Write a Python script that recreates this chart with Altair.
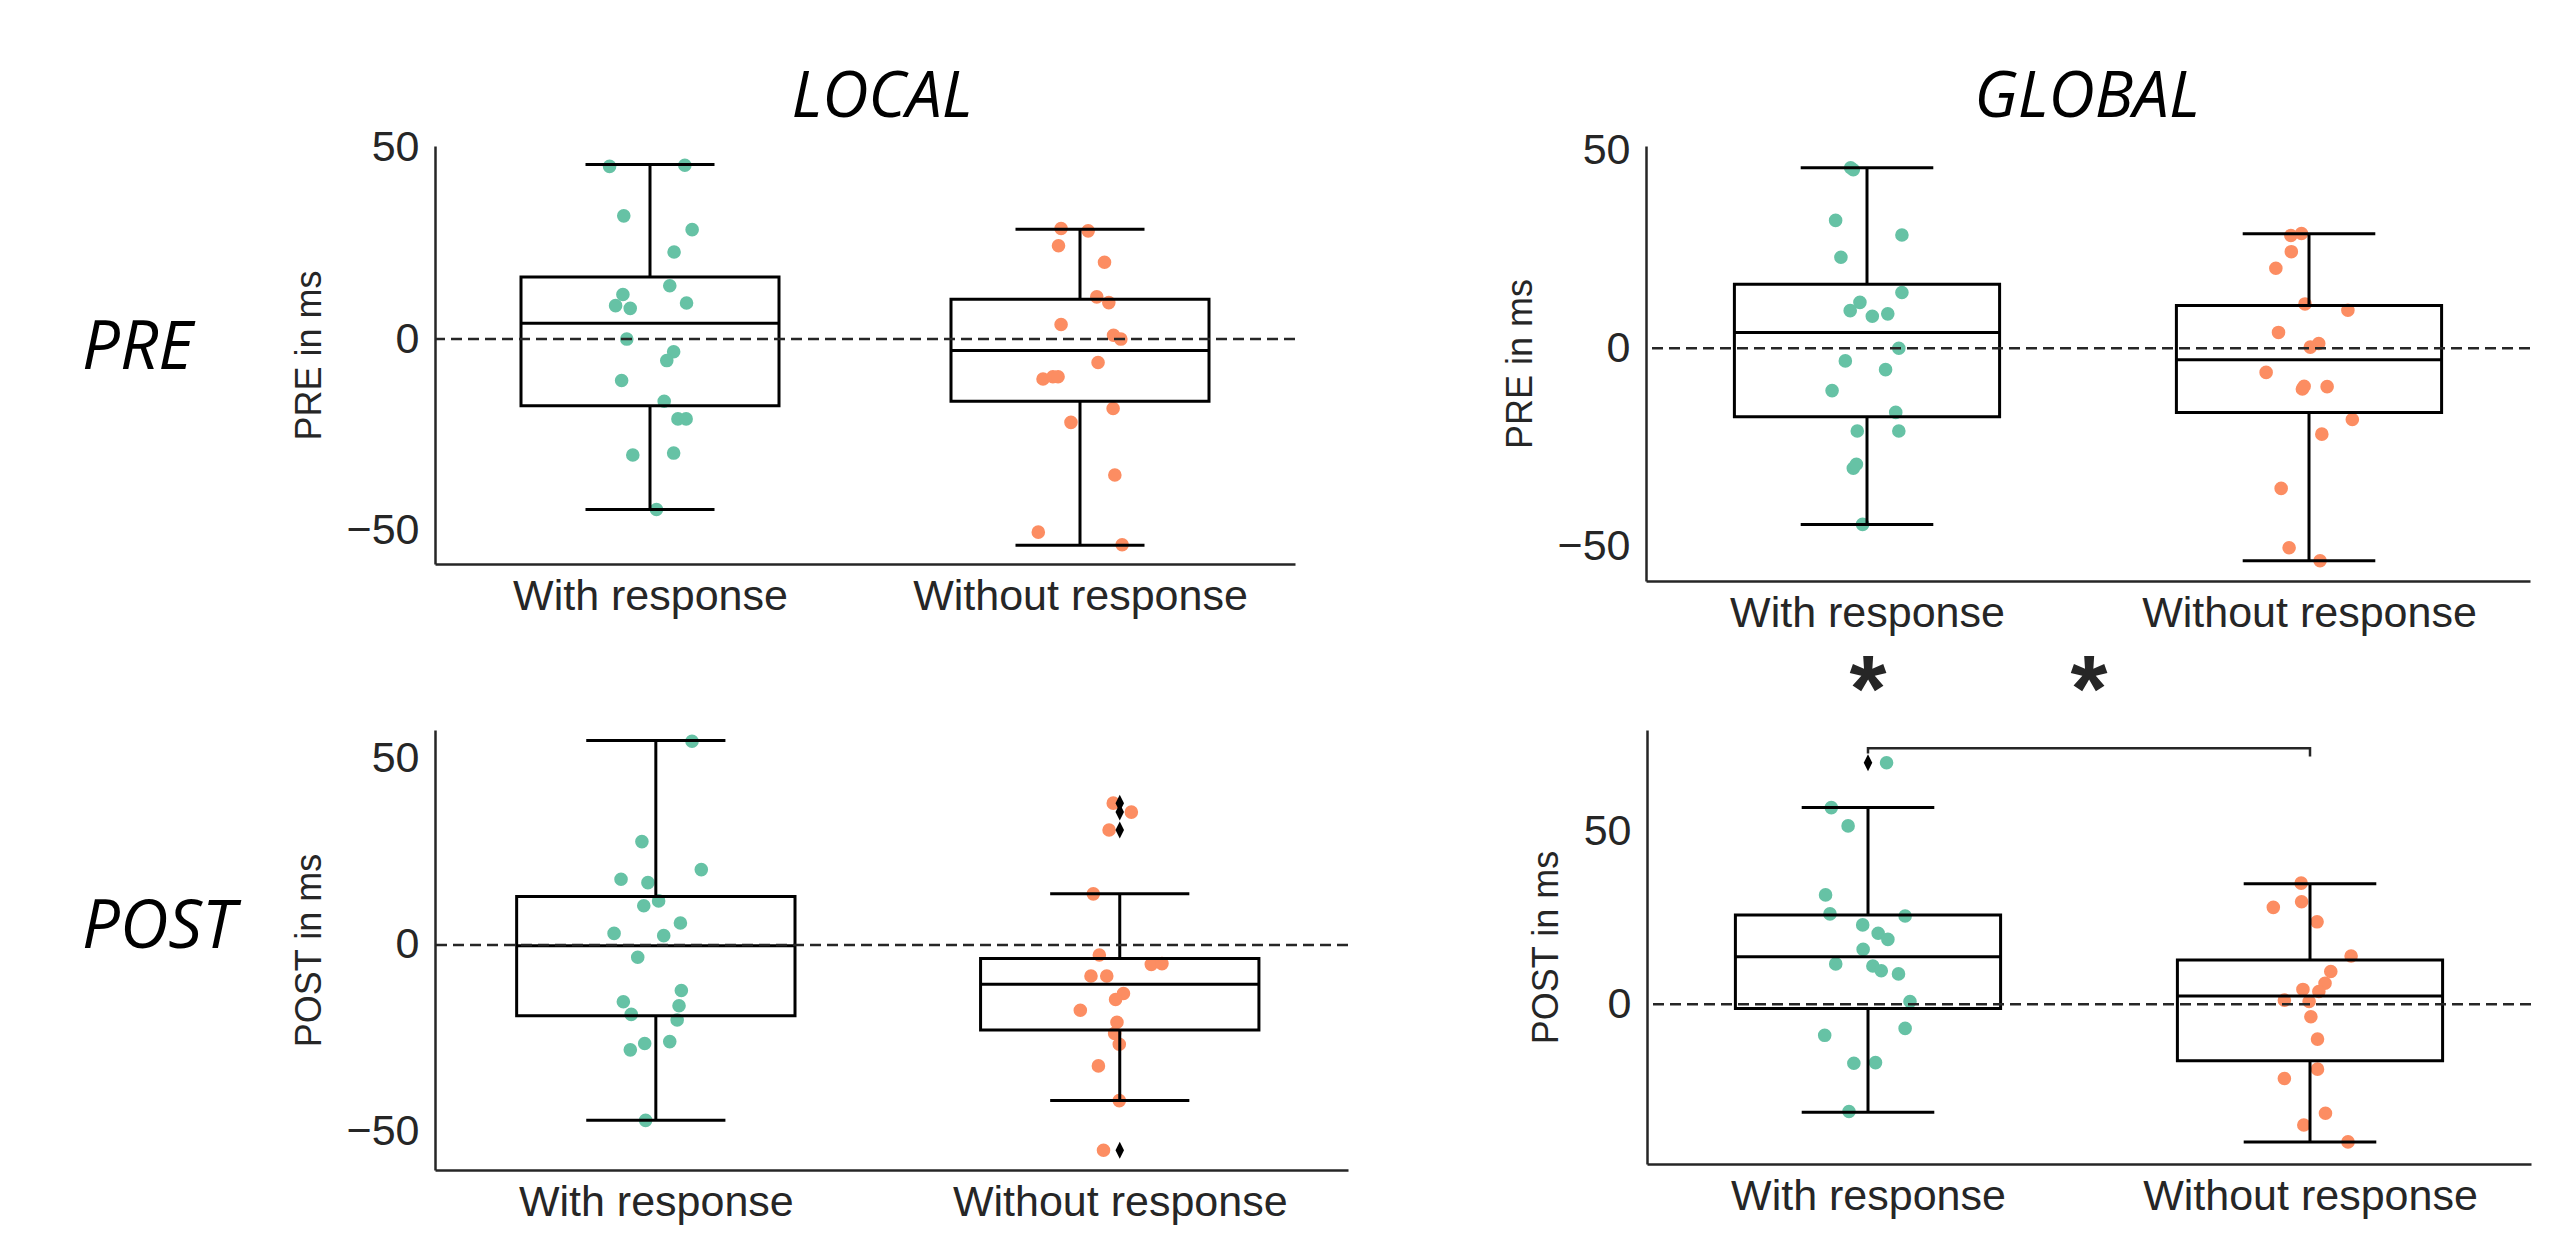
import altair as alt
import pandas as pd

categories = ["With response", "Without response"]
colors = ["#66c2a5", "#fc8d62"]
col_titles = ["LOCAL", "GLOBAL"]
row_titles = ["PRE", "POST"]
y_titles = ["PRE in ms", "POST in ms"]

# ---------------- PRE / LOCAL ----------------
pl_w_vals = [45.0, 45.3, 32.1, 28.5, 22.7, 13.9, 11.6, 8.7, 8.0, 9.4, 0.0, -3.3, -5.6, -10.8, -16.2, -20.8, -20.8, -30.2, -29.7, -44.4]
pl_w_jit = [-0.094, 0.081, -0.061, 0.098, 0.056, 0.046, -0.063, -0.080, -0.046, 0.085, -0.054, 0.055, 0.039, -0.066, 0.033, 0.065, 0.084, -0.040, 0.055, 0.015]
pl_o_vals = [28.8, 28.2, 24.3, 20.0, 11.0, 9.5, 3.8, 1.0, 0.0, -6.1, -10.4, -9.8, -9.8, -18.1, -21.7, -35.4, -50.3, -53.6]
pl_o_jit = [-0.044, 0.019, -0.050, 0.057, 0.039, 0.067, -0.044, 0.078, 0.095, 0.042, -0.086, -0.063, -0.051, 0.077, -0.021, 0.081, -0.097, 0.098]
pl_lower = [-44.4, -53.7]
pl_q1 = [-17.4, -16.2]
pl_med = [4.1, -3.0]
pl_q3 = [16.2, 10.4]
pl_upper = [45.5, 28.6]

# ---------------- PRE / GLOBAL ----------------
pg_w_vals = [45.6, 45.1, 32.3, 28.6, 23.0, 14.1, 11.6, 9.5, 8.1, 8.7, 0.0, -3.2, -5.4, -10.7, -16.2, -20.9, -20.9, -30.3, -29.3, -44.5]
pg_w_jit = [-0.037, -0.031, -0.071, 0.079, -0.059, 0.079, -0.016, -0.038, 0.012, 0.047, 0.072, -0.049, 0.042, -0.079, 0.065, -0.022, 0.072, -0.031, -0.024, -0.010]
pg_o_vals = [28.5, 29.0, 24.4, 20.2, 11.2, 9.6, 4.0, 1.2, 0.3, -6.1, -10.3, -9.6, -9.7, -18.0, -21.7, -35.4, -50.4, -53.7]
pg_o_jit = [-0.041, -0.017, -0.040, -0.075, -0.009, 0.088, -0.069, 0.022, 0.003, -0.097, -0.015, -0.011, 0.041, 0.098, 0.029, -0.063, -0.045, 0.025]
pg_lower = [-44.5, -53.7]
pg_q1 = [-17.3, -16.2]
pg_med = [4.0, -2.9]
pg_q3 = [16.2, 10.8]
pg_upper = [45.6, 28.9]

# ---------------- POST / LOCAL ----------------
ql_w_vals = [54.6, 27.7, 20.2, 17.6, 16.7, 11.8, 10.5, 5.9, 3.1, 2.5, -3.3, -12.2, -15.2, -16.3, -18.6, -20.1, -26.4, -28.1, -25.9, -47.0]
ql_w_jit = [0.078, -0.030, 0.098, -0.075, -0.017, 0.006, -0.026, 0.053, -0.090, 0.017, -0.039, 0.055, -0.070, 0.050, -0.053, 0.046, -0.024, -0.055, 0.030, -0.022]
ql_o_vals = [38.0, 35.6, 30.8, 13.7, -2.7, -5.2, -5.0, -8.3, -8.3, -13.0, -14.6, -17.5, -20.7, -23.7, -26.6, -32.4, -41.7, -55.0]
ql_o_jit = [-0.014, 0.025, -0.023, -0.057, -0.044, 0.068, 0.091, -0.062, -0.028, 0.008, -0.009, -0.085, -0.006, -0.011, -0.001, -0.046, -0.001, -0.035]
ql_lower = [-47.0, -41.7]
ql_q1 = [-19.0, -22.8]
ql_med = [-0.2, -10.5]
ql_q3 = [13.0, -3.6]
ql_upper = [54.8, 13.7]
ql_flier_grp = [1, 1, 1, 1]
ql_flier_vals = [38.0, 35.6, 30.8, -55.0]

# ---------------- POST / GLOBAL ----------------
qg_w_vals = [70.0, 57.0, 51.7, 31.7, 26.2, 25.6, 23.0, 20.6, 18.8, 15.9, 11.7, 11.1, 9.7, 8.8, 0.8, -7.0, -9.0, -17.1, -16.9, -31.1]
qg_w_jit = [0.042, -0.083, -0.045, -0.096, -0.086, 0.084, -0.012, 0.023, 0.045, -0.011, -0.073, 0.011, 0.030, 0.069, 0.095, 0.084, -0.098, -0.032, 0.017, -0.043]
qg_o_vals = [35.1, 28.1, 29.7, 23.9, 14.0, 9.5, 6.1, 3.7, 4.3, 1.2, 0.8, -3.6, -10.1, -18.8, -21.5, -31.6, -35.0, -39.9]
qg_o_jit = [-0.020, -0.083, -0.019, 0.016, 0.093, 0.047, 0.034, 0.020, -0.016, -0.058, -0.002, 0.002, 0.017, 0.017, -0.058, 0.035, -0.014, 0.086]
qg_lower = [-31.3, -39.9]
qg_q1 = [-1.2, -16.4]
qg_med = [13.8, 2.4]
qg_q3 = [25.9, 12.8]
qg_upper = [57.0, 34.9]
qg_flier_grp = [0]
qg_flier_vals = [70.0]

# significance annotation (POST / GLOBAL)
bracket_x = [0, 0, 1, 1]
bracket_y = [72.7, 74.2, 74.2, 71.8]
star_x = [0, 0.5]
star_text = ["*", "*"]

LABEL_FONT = "Liberation Sans"
TITLE_FONT = "Open Sans"
DARK = "#262626"
DIAMOND = "M0,-1L0.5,0L0,1L-0.5,0Z"


def panel(w_vals, w_jit, o_vals, o_jit, lower, q1, med, q3, upper,
          xdom, ydom, yticks, width, height, ytitle,
          fl_grp=None, fl_vals=None, extra=None):
    pts = pd.DataFrame({
        "grp": [0] * len(w_vals) + [1] * len(o_vals),
        "jit": w_jit + o_jit,
        "val": w_vals + o_vals,
    })
    box = pd.DataFrame({"grp": [0, 1], "lower": lower, "q1": q1, "med": med,
                        "q3": q3, "upper": upper})
    xs = alt.Scale(domain=xdom, nice=False, zero=False)
    ys = alt.Scale(domain=ydom, nice=False, zero=False)
    label_expr = "datum.value == 0 ? '%s' : '%s'" % (categories[0], categories[1])
    xaxis = alt.Axis(values=[0, 1], labelExpr=label_expr, title=None, grid=False,
                     ticks=False, labelPadding=11, labelFontSize=43, labelLimit=0,
                     labelFont=LABEL_FONT, labelColor=DARK, domainColor=DARK,
                     domainWidth=2.5)
    yaxis = alt.Axis(values=yticks, title=ytitle, grid=False, ticks=False,
                     labelPadding=16, labelFontSize=43, labelFont=LABEL_FONT,
                     labelColor=DARK, domainColor=DARK, domainWidth=2.5,
                     titleFont=LABEL_FONT, titleFontSize=36, titleFontWeight="normal",
                     titleColor=DARK, titlePadding=18)

    points = alt.Chart(pts).transform_calculate(xp="datum.grp + datum.jit").mark_circle(
        size=185, opacity=1).encode(
        x=alt.X("xp:Q", scale=xs, axis=xaxis),
        y=alt.Y("val:Q", scale=ys, axis=yaxis),
        color=alt.Color("grp:N", scale=alt.Scale(domain=[0, 1], range=colors), legend=None),
    )
    bb = alt.Chart(box).transform_calculate(
        xl="datum.grp - 0.3", xr="datum.grp + 0.3",
        cl="datum.grp - 0.15", cr="datum.grp + 0.15")
    rect = bb.mark_rect(fill="transparent", stroke="black", strokeWidth=3).encode(
        x=alt.X("xl:Q", scale=xs, axis=xaxis), x2="xr:Q",
        y=alt.Y("q1:Q", scale=ys, axis=yaxis), y2="q3:Q")
    median = bb.mark_rule(color="black", strokeWidth=3).encode(
        x=alt.X("xl:Q", scale=xs, axis=xaxis), x2="xr:Q",
        y=alt.Y("med:Q", scale=ys, axis=yaxis))
    wh_hi = bb.mark_rule(color="black", strokeWidth=3).encode(
        x=alt.X("grp:Q", scale=xs, axis=xaxis),
        y=alt.Y("q3:Q", scale=ys, axis=yaxis), y2="upper:Q")
    wh_lo = bb.mark_rule(color="black", strokeWidth=3).encode(
        x=alt.X("grp:Q", scale=xs, axis=xaxis),
        y=alt.Y("q1:Q", scale=ys, axis=yaxis), y2="lower:Q")
    cap_hi = bb.mark_rule(color="black", strokeWidth=3).encode(
        x=alt.X("cl:Q", scale=xs, axis=xaxis), x2="cr:Q",
        y=alt.Y("upper:Q", scale=ys, axis=yaxis))
    cap_lo = bb.mark_rule(color="black", strokeWidth=3).encode(
        x=alt.X("cl:Q", scale=xs, axis=xaxis), x2="cr:Q",
        y=alt.Y("lower:Q", scale=ys, axis=yaxis))
    layers = [points, rect, median, wh_hi, wh_lo, cap_hi, cap_lo]
    if fl_grp:
        fl = pd.DataFrame({"grp": fl_grp, "val": fl_vals})
        layers.append(alt.Chart(fl).mark_point(shape=DIAMOND, filled=True, color="black",
                                               size=290, opacity=1).encode(
            x=alt.X("grp:Q", scale=xs, axis=xaxis),
            y=alt.Y("val:Q", scale=ys, axis=yaxis)))
    zero = alt.Chart(pd.DataFrame({"v": [0]})).mark_rule(
        color=DARK, strokeWidth=2.5, strokeDash=[11, 6]).encode(
        y=alt.Y("v:Q", scale=ys, axis=yaxis))
    layers.append(zero)
    if extra:
        layers.extend(extra(xs, ys, xaxis, yaxis))
    return alt.layer(*layers).properties(width=width, height=height)


def big_text(txt, x, y, align, size=64):
    return alt.Chart(pd.DataFrame({"t": [txt]})).mark_text(
        font=TITLE_FONT, fontSize=size, fontStyle="italic", fontWeight="normal",
        color="black", align=align, baseline="alphabetic").encode(
        x=alt.value(x), y=alt.value(y), text="t:N")


def p1_extra(xs, ys, xa, ya):
    return [big_text(col_titles[0], 447, -29, "center"),
            big_text(row_titles[0], -353, 223, "left", 67)]


def p2_extra(xs, ys, xa, ya):
    return [big_text(col_titles[1], 441, -29, "center")]


def p3_extra(xs, ys, xa, ya):
    return [big_text(row_titles[1], -353, 218, "left", 67)]


def p4_extra(xs, ys, xa, ya):
    br = pd.DataFrame({"bx": bracket_x, "by": bracket_y, "o": list(range(len(bracket_x)))})
    bracket = alt.Chart(br).mark_line(color=DARK, strokeWidth=2.5).encode(
        x=alt.X("bx:Q", scale=xs, axis=xa), y=alt.Y("by:Q", scale=ys, axis=ya),
        order="o:Q")
    st = pd.DataFrame({"sx": star_x, "s": star_text})
    stars = alt.Chart(st).mark_text(font="Liberation Sans", fontSize=95, fontWeight="bold",
                                    color=DARK, baseline="alphabetic", align="center").encode(
        x=alt.X("sx:Q", scale=xs, axis=xa), y=alt.value(-9), text="s:N")
    return [bracket, stars]


p1 = panel(pl_w_vals, pl_w_jit, pl_o_vals, pl_o_jit, pl_lower, pl_q1, pl_med, pl_q3, pl_upper,
           [-0.5, 1.5], [-58.6, 50.3], [-50, 0, 50], 860, 418, y_titles[0], extra=p1_extra)
p2 = panel(pg_w_vals, pg_w_jit, pg_o_vals, pg_o_jit, pg_lower, pg_q1, pg_med, pg_q3, pg_upper,
           [-0.5, 1.5], [-58.8, 51.1], [-50, 0, 50], 884, 435, y_titles[0], extra=p2_extra)
p3 = panel(ql_w_vals, ql_w_jit, ql_o_vals, ql_o_jit, ql_lower, ql_q1, ql_med, ql_q3, ql_upper,
           [-0.476, 1.492], [-60.3, 57.6], [-50, 0, 50], 913, 440, y_titles[1],
           fl_grp=ql_flier_grp, fl_vals=ql_flier_vals, extra=p3_extra)
p4 = panel(qg_w_vals, qg_w_jit, qg_o_vals, qg_o_jit, qg_lower, qg_q1, qg_med, qg_q3, qg_upper,
           [-0.5, 1.5], [-46.3, 79.5], [0, 50], 884, 434, y_titles[1],
           fl_grp=qg_flier_grp, fl_vals=qg_flier_vals, extra=p4_extra)

top = alt.hconcat(p1, p2, spacing=205)
bottom = alt.hconcat(p3, p4, spacing=178)
chart = alt.vconcat(top, bottom, spacing=10).properties(
    padding={"left": 74, "top": 58, "right": 5, "bottom": 5},
    background="white",
).configure_view(stroke=None)

chart.save("out.html", embed_options={"renderer": "svg", "actions": False})
